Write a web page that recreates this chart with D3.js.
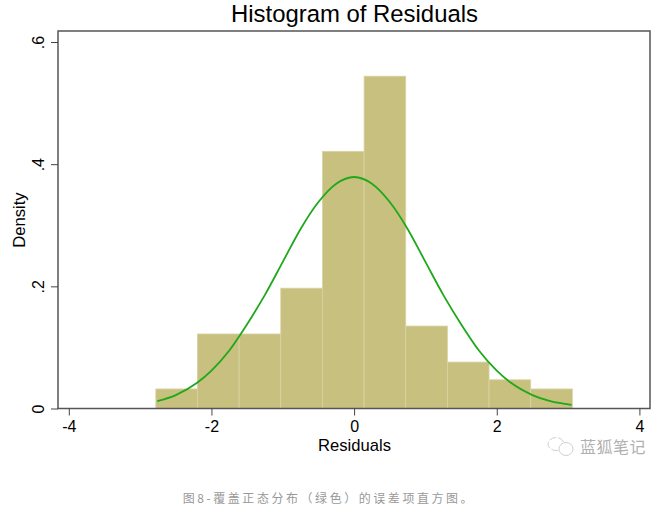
<!DOCTYPE html>
<html>
<head>
<meta charset="utf-8">
<script src="https://cdn.jsdelivr.net/npm/d3@7"></script>
<style>
html, body { margin: 0; padding: 0; background: #fff; }
svg { display: block; }
text { font-family: "Liberation Sans", sans-serif; fill: #000; }
</style>
</head>
<body>
<svg id="chart" width="669" height="512"></svg>
<script>
const binEdges = [-2.78, -2.196, -1.612, -1.028, -0.444, 0.14, 0.724, 1.308, 1.892, 2.476, 3.06];
const densities = [0.032, 0.122, 0.122, 0.197, 0.421, 0.544, 0.135, 0.076, 0.047, 0.032];
const curveX = [-2.76, -2.5, -2.2, -2, -1.75, -1.5, -1.25, -1, -0.75, -0.5, -0.25, 0, 0.25, 0.5, 0.75, 1, 1.25, 1.5, 1.75, 2, 2.2, 2.5, 2.75, 3.05];
const curveY = [0.012, 0.022, 0.042, 0.062, 0.095, 0.138, 0.186, 0.24, 0.294, 0.338, 0.368, 0.379, 0.368, 0.338, 0.294, 0.24, 0.186, 0.138, 0.095, 0.062, 0.042, 0.022, 0.012, 0.006];
const xTicks = [-4, -2, 0, 2, 4];
const yTicks = [0, 0.2, 0.4, 0.6];
const yTickLabels = ['0', '.2', '.4', '.6'];

const svg = d3.select('#chart');
const x = d3.scaleLinear().domain([-4, 4]).range([68.8, 639.4]);
const y = d3.scaleLinear().domain([0, 0.6]).range([408.5, 42]);

const frame = {left: 58, top: 31, right: 650, bottom: 408.5};

// histogram bars
svg.append('g').selectAll('rect').data(densities).enter().append('rect')
    .attr('x', (d, i) => x(binEdges[i]))
    .attr('y', d => y(d))
    .attr('width', (d, i) => x(binEdges[i+1]) - x(binEdges[i]))
    .attr('height', d => y(0) - y(d))
    .attr('fill', '#c8c07f')
    .attr('stroke', '#d8d3a4')
    .attr('stroke-width', 0.8);

// frame
svg.append('rect')
    .attr('x', frame.left).attr('y', frame.top)
    .attr('width', frame.right - frame.left)
    .attr('height', frame.bottom - frame.top)
    .attr('fill', 'none')
    .attr('stroke', '#555')
    .attr('stroke-width', 1.5);

// normal curve
const line = d3.line()
    .x((d, i) => x(curveX[i]))
    .y(d => y(d))
    .curve(d3.curveMonotoneX);
svg.append('path').datum(curveY)
    .attr('d', line)
    .attr('fill', 'none')
    .attr('stroke', '#1fa81a')
    .attr('stroke-width', 1.8);

// axes
const xAxis = svg.append('g')
    .attr('transform', `translate(0, ${frame.bottom})`)
    .call(d3.axisBottom(x).tickValues(xTicks).tickSize(7).tickPadding(5).tickFormat(d => String(d)));
xAxis.select('.domain').remove();
xAxis.selectAll('line').attr('stroke', '#444');
xAxis.selectAll('text').attr('font-size', 16).style('font-family', '"Liberation Sans", sans-serif');

const yAxis = svg.append('g')
    .attr('transform', `translate(${frame.left}, 0)`)
    .call(d3.axisLeft(y).tickValues(yTicks).tickSize(7).tickPadding(0).tickFormat((d, i) => yTickLabels[i]));
yAxis.select('.domain').remove();
yAxis.selectAll('line').attr('stroke', '#444');
yAxis.selectAll('text')
    .attr('font-size', 16)
    .attr('text-anchor', 'middle')
    .attr('dy', 0)
    .attr('x', 0)
    .attr('y', 0)
    .attr('transform', 'translate(-14, 0) rotate(-90)')
    .style('font-family', '"Liberation Sans", sans-serif');

// titles
svg.append('text').attr('x', 354.5).attr('y', 22).attr('text-anchor', 'middle')
    .attr('font-size', 23.9).text('Histogram of Residuals');
svg.append('text').attr('x', 354.5).attr('y', 451).attr('text-anchor', 'middle')
    .attr('font-size', 16.6).text('Residuals');
svg.append('text').attr('transform', 'translate(25, 220) rotate(-90)').attr('text-anchor', 'middle')
    .attr('font-size', 16.6).text('Density');

// caption and watermark
svg.append('text').attr('x', 329).attr('y', 503).attr('text-anchor', 'middle')
    .attr('font-size', 12).style('font-family', '"Noto Sans CJK SC"').style('fill', '#999')
    .attr('letter-spacing', 2.55).text('图8-覆盖正态分布（绿色）的误差项直方图。');
svg.append('text').attr('x', 580).attr('y', 453)
    .attr('font-size', 16).attr('letter-spacing', 0.5).style('font-family', '"Noto Sans CJK SC"').style('fill', '#b0b0b0')
    .text('蓝狐笔记');
const wm = svg.append('g').attr('fill', '#fff').attr('stroke', '#c4c4c4').attr('stroke-width', 0.8);
wm.append('ellipse').attr('cx', 556).attr('cy', 444).attr('rx', 8).attr('ry', 6.5).attr('stroke-dasharray', '7 2');
wm.append('ellipse').attr('cx', 566).attr('cy', 449).attr('rx', 7).attr('ry', 6.5);
</script>
</body>
</html>
